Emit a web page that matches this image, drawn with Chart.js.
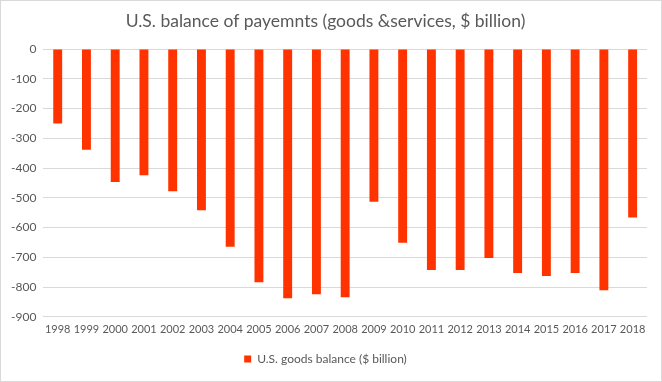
<!DOCTYPE html>
<html><head><meta charset="utf-8">
<script src="https://cdn.jsdelivr.net/npm/chart.js@4"></script>
<style>html,body{margin:0;padding:0;background:#fff}#wrap{width:662px;height:382px;position:relative}</style>
</head><body><div id="wrap"><canvas id="c" width="662" height="382"></canvas></div>
<script>
const years = ['1998','1999','2000','2001','2002','2003','2004','2005','2006','2007','2008','2009','2010','2011','2012','2013','2014','2015','2016','2017','2018'];
const goodsBalance = [-250,-339,-447,-424,-478,-542,-665,-784,-838,-824,-834,-513,-651,-743,-743,-702,-753,-763,-753,-811,-566];
const yTicks = [0,-100,-200,-300,-400,-500,-600,-700,-800,-900];
const seriesName = 'U.S. goods balance ($ billion)';
const titleText = 'U.S. balance of payemnts (goods &services, $ billion)';

const borderPlugin = {id:'border',afterDraw(ch){const c=ch.ctx;c.save();c.strokeStyle='#d9d9d9';c.lineWidth=1;c.strokeRect(0.5,0.5,ch.width-1,ch.height-1);c.restore();}};
const FONT = 'Lato, Carlito, Calibri, sans-serif';
new Chart(document.getElementById('c'),{
  type:'bar',
  data:{labels:years,datasets:[{label:seriesName,data:goodsBalance,backgroundColor:'#ff3300',barPercentage:0.31,categoryPercentage:1}]},
  options:{
    responsive:false,animation:false,
    layout:{padding:{left:4,right:15,top:7,bottom:7}},
    plugins:{
      title:{display:true,text:titleText,color:'#595959',font:{family:FONT,size:17.5,weight:'normal'},padding:{top:4,bottom:17}},
      legend:{position:'bottom',labels:{color:'#595959',font:{family:FONT,size:12},boxWidth:7,boxHeight:7,padding:11}},
      tooltip:{enabled:false}
    },
    scales:{
      x:{grid:{display:false,drawTicks:false},border:{display:false},ticks:{color:'#595959',font:{family:FONT,size:11},maxRotation:0,autoSkip:false,padding:6}},
      y:{min:-900,max:0,afterBuildTicks(ax){ax.ticks=yTicks.map(v=>({value:v}));},grid:{color:'#d9d9d9',drawTicks:false},border:{display:false},ticks:{color:'#595959',font:{family:FONT,size:12},padding:7}}
    }
  },
  plugins:[borderPlugin]
});
</script></body></html>
